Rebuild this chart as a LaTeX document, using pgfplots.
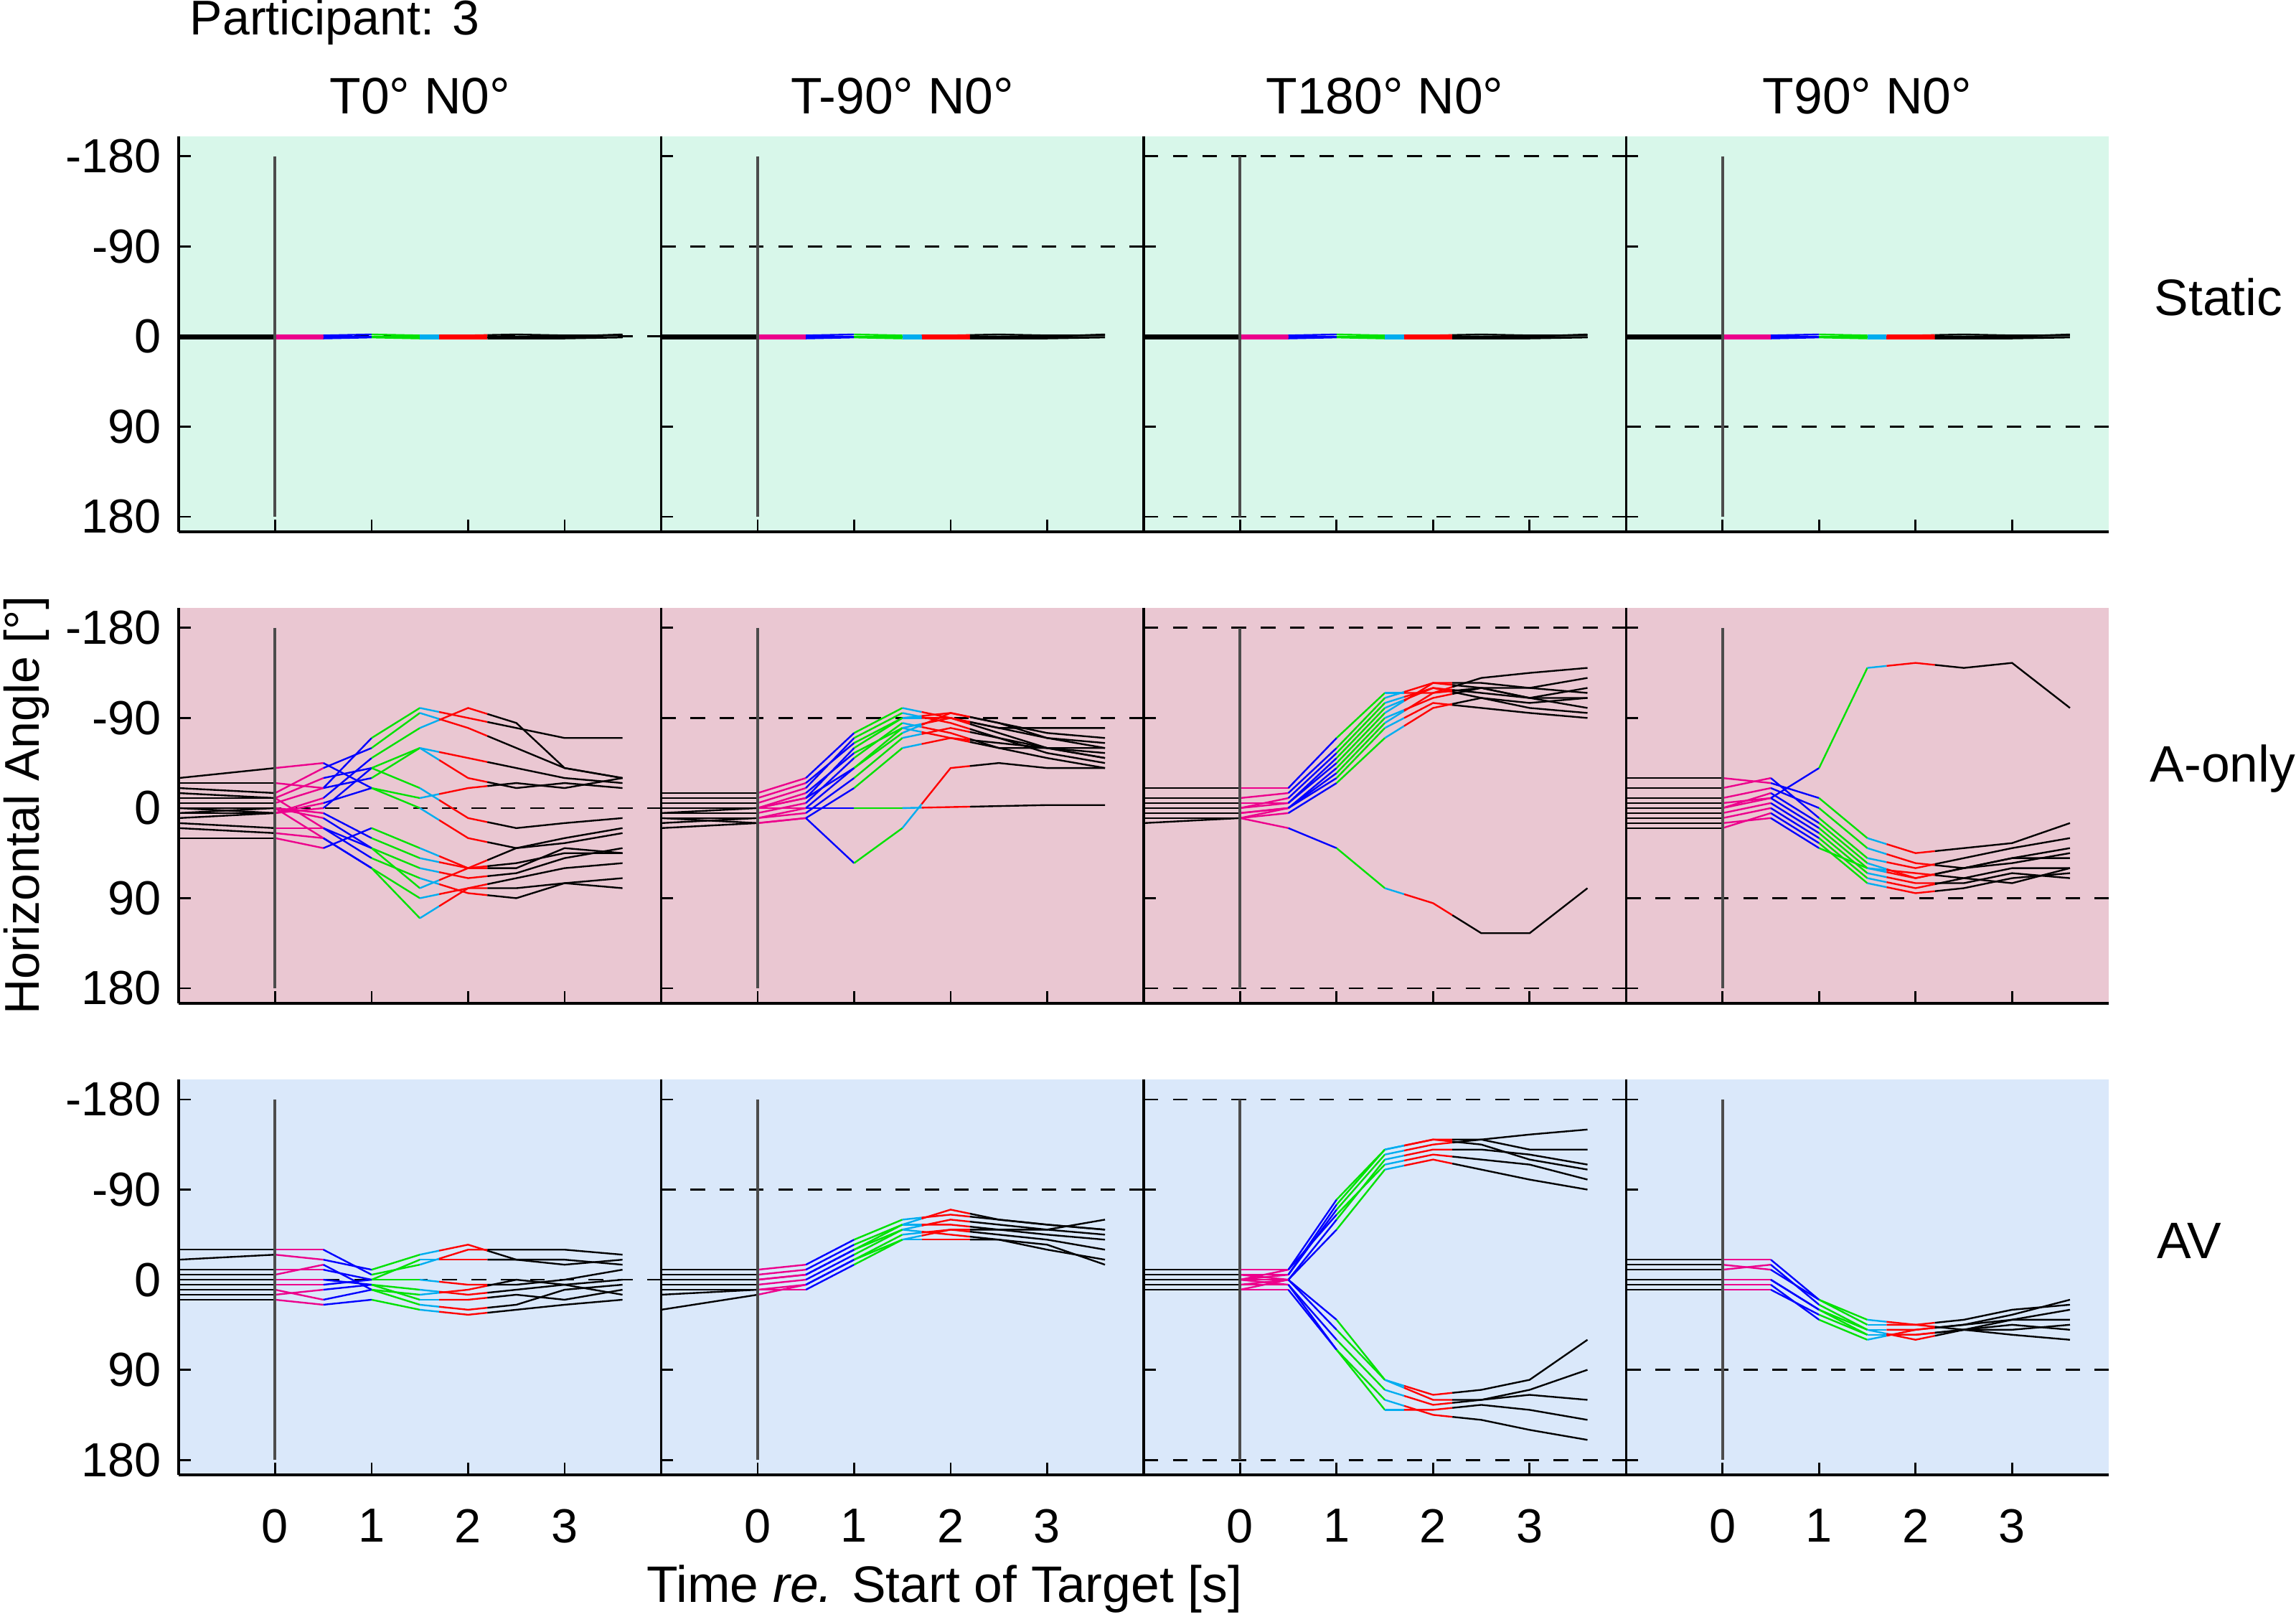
\documentclass[border=0pt]{standalone}
\usepackage{fontspec}
\setmainfont{Liberation Sans}
\usepackage{pgfplots}
\pgfplotsset{compat=1.18}
\definecolor{bgS}{RGB}{216,247,234}
\definecolor{bgA}{RGB}{234,199,210}
\definecolor{bgV}{RGB}{218,232,250}
\definecolor{gr}{RGB}{0,225,0}
\newcommand\tr[9]{%
\addplot[black] coordinates {(-1,#1)(0,#2)};
\addplot[magenta] coordinates {(0,#2)(0.5,#3)};
\addplot[blue] coordinates {(0.5,#3)(1,#4)};
\addplot[gr] coordinates {(1,#4)(1.5,#5)};
\addplot[cyan] coordinates {(1.5,#5)(1.7,{#5+0.4*(#6-#5)})};
\addplot[red] coordinates {(1.7,{#5+0.4*(#6-#5)})(2,#6)(2.2,{#6+0.4*(#7-#6)})};
\addplot[black] coordinates {(2.2,{#6+0.4*(#7-#6)})(2.5,#7)(3,#8)(3.6,#9)};}
\pgfplotsset{pan/.style={scale only axis,width=98.85pt,height=81pt,xmin=-1,xmax=4,ymin=-200,ymax=195,y dir=reverse,
 axis x line*=bottom, axis y line*=left, axis line style={-,black,line width=0.5pt},
 ytick={-180,-90,0,90,180}, xtick={0,1,2,3},
 tick style={black,line width=0.4pt}, major tick length=2.5pt, tick align=inside,
 ticklabel style={font=\fontsize{9.8}{11}\selectfont},
 xticklabel style={yshift=-3.5pt},
 every axis plot/.append style={line width=0.35pt,forget plot},
 title style={at={(0.5,1)},anchor=south,yshift=-5pt,font=\fontsize{10.5}{12}\selectfont},
 yticklabels={}, xticklabels={}},
 c0/.style={yticklabels={-180,-90,0,90,180}},
 lastrow/.style={xticklabels={0,1,2,3}}}
\newcommand\vl{\draw[black!70,line width=0.6pt] (axis cs:0,-180)--(axis cs:0,180);}
\newcommand\dl[1]{\draw[black,dashed,line width=0.4pt] (axis cs:-1,#1)--(axis cs:4,#1);}
\newcommand\statics{\tr{1}{1}{1}{1}{1}{1}{1}{1}{1}\tr{-1}{-1}{-1}{-2}{-1}{-1}{-2}{-1}{-1}\tr{0}{0}{0}{0}{0}{0}{0}{0}{-2}\tr{2}{2}{2}{1}{2}{2}{2}{2}{1}}
\begin{document}
\begin{tikzpicture}
\def\u{0.3pt}
\path[use as bounding box] (0,0) rectangle (1568*\u,-1107*\u);
% Row 1 Static
\begin{axis}[pan,c0,axis background/.style={fill=bgS},at={(122*\u,-93*\u)},anchor=north west,title={T0° N0°}]
\dl{0}\statics\vl
\end{axis}
\begin{axis}[pan,axis background/.style={fill=bgS},at={(451.5*\u,-93*\u)},anchor=north west,title={T-90° N0°}]
\dl{-90}\statics\vl
\end{axis}
\begin{axis}[pan,axis background/.style={fill=bgS},at={(781*\u,-93*\u)},anchor=north west,title={T180° N0°}]
\dl{-180}\dl{180}\statics\vl
\end{axis}
\begin{axis}[pan,axis background/.style={fill=bgS},at={(1110.5*\u,-93*\u)},anchor=north west,title={T90° N0°}]
\dl{90}\statics\vl
\end{axis}
% Row 2 A-only
\begin{axis}[pan,c0,axis background/.style={fill=bgA},at={(122*\u,-415*\u)},anchor=north west]
\dl{0}
\tr{-20}{-15}{-40}{-60}{-95}{-80}{-60}{-40}{-30}
\tr{-5}{-5}{-20}{-70}{-100}{-90}{-80}{-70}{-70}
\tr{0}{5}{-10}{-50}{-80}{-100}{-85}{-40}{-30}
\tr{10}{5}{0}{-40}{-60}{-50}{-40}{-30}{-25}
\tr{-30}{-40}{-45}{-20}{-10}{-20}{-25}{-20}{-30}
\tr{5}{0}{10}{40}{80}{60}{40}{30}{20}
\tr{20}{25}{30}{60}{90}{80}{70}{60}{55}
\tr{0}{0}{30}{60}{110}{80}{80}{75}{80}
\tr{-10}{-10}{20}{50}{70}{85}{90}{75}{70}
\tr{15}{20}{20}{40}{60}{70}{65}{50}{40}
\tr{30}{30}{40}{20}{40}{60}{55}{45}{45}
\tr{-15}{-10}{-30}{-40}{-20}{10}{20}{15}{10}
\tr{5}{5}{-5}{-20}{0}{30}{40}{35}{25}
\tr{0}{0}{5}{30}{50}{60}{60}{40}{45}
\tr{-25}{-25}{-20}{-30}{-60}{-30}{-20}{-25}{-20}
\vl
\end{axis}
\begin{axis}[pan,axis background/.style={fill=bgA},at={(451.5*\u,-415*\u)},anchor=north west]
\dl{-90}
\tr{10}{10}{0}{-40}{-80}{-90}{-80}{-70}{-60}
\tr{0}{0}{-10}{-60}{-90}{-95}{-85}{-75}{-70}
\tr{-5}{-5}{-20}{-70}{-95}{-85}{-70}{-55}{-45}
\tr{15}{10}{5}{-30}{-70}{-80}{-70}{-60}{-50}
\tr{5}{5}{-5}{-50}{-85}{-75}{-60}{-50}{-40}
\tr{-10}{-10}{-25}{-65}{-90}{-90}{-80}{-80}{-80}
\tr{20}{15}{10}{-20}{-60}{-70}{-65}{-60}{-55}
\tr{0}{0}{-15}{-55}{-80}{-70}{-60}{-60}{-50}
\tr{-15}{-15}{-30}{-75}{-100}{-90}{-75}{-60}{-60}
\tr{10}{15}{10}{55}{20}{-40}{-45}{-40}{-40}
\tr{0}{0}{0}{0}{0}{-1}{-2}{-3}{-3}
\tr{5}{0}{-10}{-40}{-75}{-95}{-85}{-70}{-65}
\vl
\end{axis}
\begin{axis}[pan,axis background/.style={fill=bgA},at={(781*\u,-415*\u)},anchor=north west]
\dl{-180}\dl{180}
\tr{0}{0}{-5}{-50}{-100}{-120}{-115}{-110}{-100}
\tr{10}{10}{0}{-40}{-90}{-110}{-120}{-110}{-110}
\tr{-10}{-10}{-15}{-60}{-110}{-125}{-120}{-120}{-130}
\tr{5}{5}{0}{-30}{-80}{-105}{-100}{-95}{-90}
\tr{-20}{-20}{-20}{-70}{-115}{-115}{-130}{-135}{-140}
\tr{15}{10}{5}{-25}{-70}{-100}{-110}{-100}{-95}
\tr{0}{0}{-10}{-55}{-105}{-120}{-110}{-105}{-110}
\tr{-5}{-5}{-5}{-45}{-95}{-125}{-125}{-120}{-115}
\tr{5}{5}{0}{-35}{-85}{-115}{-120}{-110}{-120}
\tr{10}{10}{20}{40}{80}{95}{125}{125}{80}
\vl
\end{axis}
\begin{axis}[pan,axis background/.style={fill=bgA},at={(1110.5*\u,-415*\u)},anchor=north west]
\dl{90}
\tr{0}{0}{-10}{20}{60}{70}{60}{50}{40}
\tr{-20}{-20}{-30}{10}{50}{60}{50}{40}{30}
\tr{10}{10}{0}{30}{70}{80}{70}{60}{60}
\tr{-10}{-10}{-20}{0}{40}{55}{60}{50}{50}
\tr{5}{5}{-5}{25}{65}{75}{75}{65}{70}
\tr{-30}{-30}{-25}{-10}{30}{45}{40}{35}{15}
\tr{15}{15}{10}{40}{60}{65}{70}{75}{60}
\tr{0}{0}{-15}{15}{55}{70}{60}{55}{45}
\tr{-5}{-5}{-10}{-40}{-140}{-145}{-140}{-145}{-100}
\tr{20}{20}{5}{35}{75}{85}{80}{70}{65}
\vl
\end{axis}
% Row 3 AV
\begin{axis}[pan,c0,lastrow,axis background/.style={fill=bgV},at={(122*\u,-737*\u)},anchor=north west]
\dl{0}
\tr{-30}{-30}{-30}{-5}{-15}{-30}{-30}{-30}{-25}
\tr{-20}{-25}{-20}{-10}{-25}{-35}{-20}{-20}{-15}
\tr{0}{0}{0}{5}{20}{20}{15}{20}{10}
\tr{10}{10}{20}{10}{25}{30}{25}{10}{5}
\tr{20}{20}{25}{20}{30}{35}{30}{25}{20}
\tr{-10}{-10}{-10}{0}{-20}{-20}{-20}{-15}{-20}
\tr{5}{5}{5}{0}{0}{5}{5}{0}{-10}
\tr{-5}{-5}{-15}{10}{15}{10}{0}{5}{15}
\tr{15}{15}{10}{5}{10}{15}{10}{5}{0}
\vl
\end{axis}
\begin{axis}[pan,lastrow,axis background/.style={fill=bgV},at={(451.5*\u,-737*\u)},anchor=north west]
\dl{-90}
\tr{0}{0}{-5}{-30}{-50}{-60}{-55}{-50}{-45}
\tr{10}{10}{5}{-20}{-45}{-50}{-45}{-40}{-30}
\tr{-10}{-10}{-15}{-40}{-60}{-65}{-60}{-55}{-50}
\tr{15}{10}{10}{-15}{-40}{-40}{-40}{-30}{-20}
\tr{-5}{-5}{-10}{-35}{-55}{-55}{-50}{-50}{-60}
\tr{5}{5}{0}{-25}{-50}{-45}{-40}{-35}{-15}
\tr{30}{15}{5}{-20}{-40}{-50}{-50}{-45}{-40}
\tr{0}{0}{-5}{-30}{-55}{-70}{-60}{-55}{-50}
\vl
\end{axis}
\begin{axis}[pan,lastrow,axis background/.style={fill=bgV},at={(781*\u,-737*\u)},anchor=north west]
\dl{-180}\dl{180}
\tr{0}{0}{-5}{-70}{-125}{-135}{-140}{-145}{-150}
\tr{10}{10}{0}{-60}{-120}{-130}{-130}{-125}{-115}
\tr{-10}{-10}{-10}{-80}{-130}{-140}{-140}{-130}{-130}
\tr{5}{5}{0}{-50}{-110}{-120}{-110}{-100}{-90}
\tr{-5}{-5}{-5}{-75}{-130}{-140}{-135}{-120}{-110}
\tr{0}{0}{-10}{-65}{-115}{-125}{-120}{-115}{-100}
\tr{0}{0}{5}{60}{110}{125}{120}{110}{90}
\tr{10}{10}{10}{70}{120}{135}{140}{150}{160}
\tr{-5}{-5}{0}{50}{100}{120}{120}{115}{120}
\tr{5}{5}{5}{70}{130}{130}{125}{130}{140}
\tr{0}{0}{0}{40}{100}{115}{110}{100}{60}
\vl
\end{axis}
\begin{axis}[pan,lastrow,axis background/.style={fill=bgV},at={(1110.5*\u,-737*\u)},anchor=north west]
\dl{90}
\tr{0}{0}{0}{30}{50}{50}{45}{40}{30}
\tr{-20}{-20}{-20}{20}{45}{45}{50}{40}{40}
\tr{10}{10}{10}{35}{55}{55}{50}{45}{50}
\tr{-10}{-10}{-15}{25}{50}{60}{50}{55}{60}
\tr{5}{5}{5}{40}{60}{50}{45}{35}{20}
\tr{-15}{-15}{-10}{20}{40}{45}{40}{30}{25}
\tr{0}{0}{0}{30}{55}{55}{50}{50}{45}
\vl
\end{axis}
\node[anchor=west,font=\fontsize{10}{12}\selectfont] at (118*\u,-15*\u) {Participant: 3};
\node[rotate=90,font=\fontsize{10}{12}\selectfont] at (18*\u,-550*\u) {Horizontal Angle [°]};
\node[font=\fontsize{10.5}{12}\selectfont] at (645*\u,-1085*\u) {Time \textit{re.} Start of Target [s]};
\node[font=\fontsize{10.5}{12}\selectfont] at (1515*\u,-203*\u) {Static};
\node[font=\fontsize{10.5}{12}\selectfont] at (1518*\u,-525*\u) {A-only};
\node[font=\fontsize{10.5}{12}\selectfont] at (1495*\u,-847*\u) {AV};
\end{tikzpicture}
\end{document}
